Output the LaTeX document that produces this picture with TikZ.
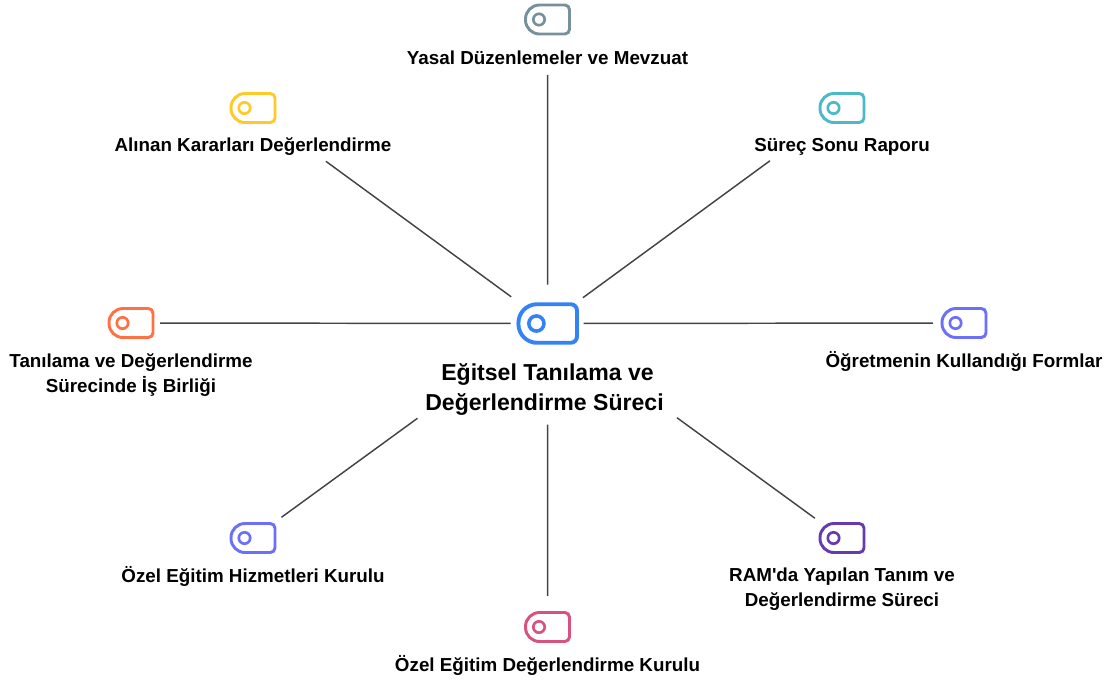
\documentclass[tikz,border=0pt]{standalone}
\usepackage{fontspec}
\setmainfont{Liberation Sans}
\usetikzlibrary{positioning}

\definecolor{tagslate}{HTML}{78909C}
\definecolor{tagyellow}{HTML}{FFCA28}
\definecolor{tagteal}{HTML}{4DB9C8}
\definecolor{tagorange}{HTML}{FF7043}
\definecolor{tagviolet}{HTML}{6C6FF8}
\definecolor{tagblue}{HTML}{3382F6}
\definecolor{tagpurple}{HTML}{673AB0}
\definecolor{tagpink}{HTML}{D8517F}
\definecolor{linkgray}{HTML}{444444}

\tikzset{
    tagicon/.pic={
        \node[inner sep=0pt, minimum width=#1*33pt, minimum height=#1*22pt] (-box) at (0,0) {};
        \draw[pic actions, line width=#1*2.2pt, rounded corners=#1*10.5pt] (-6,14.5) -- (-22,14.5) -- (-22,-14.5) [rounded corners=#1*3.5pt] -- (22,-14.5) -- (22,14.5) -- cycle;
        \draw[pic actions, line width=#1*2pt] (-8.5,0) circle (5.7);
    },
    lbl/.style={font=\fontsize{14.1pt}{18.6pt}\bfseries\selectfont, align=center, inner sep=0pt, text=black},
    link/.style={draw=linkgray, line width=1.1pt}
}

\begin{document}
\begin{tikzpicture}[x=0.75pt, y=-0.75pt]
    \useasboundingbox (0,0) rectangle (1112,682);

    \pic[draw=tagblue, scale=1.33] (hub) at (547.7,323.5) {tagicon=1.33};
    \node[font=\fontsize{17.3pt}{22.5pt}\bfseries\selectfont, align=center, inner sep=0pt] (hublbl) at (547.5,389) {Eğitsel Tanılama ve\\Değerlendirme Süreci\hspace*{4.5pt}};

    \pic[draw=tagslate] (yasal) at (547.5,19.5) {tagicon=1};
    \node[lbl] (yasallbl) at (547.5,58) {Yasal Düzenlemeler ve Mevzuat};

    \pic[draw=tagyellow] (alinan) at (253,108) {tagicon=1};
    \node[lbl] (alinanlbl) at (253,146.5) {Alınan Kararları Değerlendirme};

    \pic[draw=tagteal] (surec) at (842,108) {tagicon=1};
    \node[lbl] (sureclbl) at (842,146.5) {Süreç Sonu Raporu};

    \pic[draw=tagorange] (tani) at (131,323) {tagicon=1};
    \node[lbl] (tanilbl) at (131,375) {Tanılama ve Değerlendirme\\Sürecinde İş Birliği};

    \pic[draw=tagviolet] (form) at (964,323) {tagicon=1};
    \node[lbl] (formlbl) at (964,361.5) {Öğretmenin Kullandığı Formlar};

    \pic[draw=tagviolet] (hizmet) at (253,538) {tagicon=1};
    \node[lbl] (hizmetlbl) at (253,576.5) {Özel Eğitim Hizmetleri Kurulu};

    \pic[draw=tagpurple] (ram) at (842,538) {tagicon=1};
    \node[lbl] (ramlbl) at (842,589) {RAM\textquotesingle da Yapılan Tanım ve\\Değerlendirme Süreci};

    \pic[draw=tagpink] (kurul) at (547.5,627) {tagicon=1};
    \node[lbl] (kurullbl) at (547.5,665.5) {Özel Eğitim Değerlendirme Kurulu};

    % spokes run centre to centre, cut back clear of icons and labels
    \draw[link, shorten <=41.6pt, shorten >=29.2pt] (yasal-box.center) -- (hub-box.center);
    \draw[link, shorten <=67.7pt, shorten >=33.9pt] (alinan-box.center) -- (hub-box.center);
    \draw[link, shorten <=67pt, shorten >=32.7pt] (surec-box.center) -- (hub-box.center);
    \draw[link, shorten <=21.8pt, shorten >=27.8pt] (tani-box.center) -- (hub-box.center);
    \draw[link, shorten <=23.3pt, shorten >=27pt] (form-box.center) -- (hub-box.center);
    \draw[link, shorten <=26.4pt, shorten >=120.8pt] (hizmet-box.center) -- (hub-box.center);
    \draw[link, shorten <=25.2pt, shorten >=120pt] (ram-box.center) -- (hub-box.center);
    \draw[link, shorten <=23.3pt, shorten >=75.8pt] (kurul-box.center) -- (hub-box.center);
\end{tikzpicture}
\end{document}
